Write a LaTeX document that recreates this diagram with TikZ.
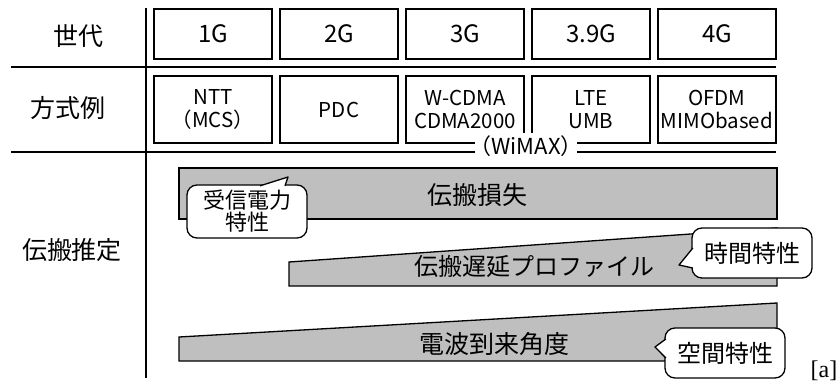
\documentclass[tikz,border=0pt]{standalone}
\usepackage{fontspec}
\setmainfont{Noto Sans CJK JP}
\newfontfamily\tagfont{Liberation Serif}
\begin{document}
\begin{tikzpicture}[x=1pt,y=-1pt,
  genbox/.style={draw,line width=1.1pt,minimum width=118pt,minimum height=50pt,inner sep=0pt,font=\fontsize{24}{28}\selectfont},
  sysbox/.style={draw,line width=1.1pt,minimum width=118pt,minimum height=67pt,inner sep=0pt,align=center,font=\fontsize{20.5}{23}\selectfont},
  head/.style={font=\fontsize{25}{30}\selectfont},
  rule/.style={line width=2pt},
  bar/.style={draw,line width=1.3pt,fill=black!25},
  barlabel/.style={font=\fontsize{25}{30}\selectfont},
  balloon/.style={draw,line width=1.3pt,fill=white,rounded corners=10pt,minimum width=120pt,minimum height=50pt,inner sep=0pt,align=center,font=\fontsize{24}{26}\selectfont},
  tail/.style={draw,line width=1.3pt,fill=white,line join=round}]
\useasboundingbox (0,0) rectangle (836,385);

% table rules
\draw[rule] (146,8) -- (146,378);
\draw[rule] (11,67) -- (776,67);
\draw[rule] (11,152) -- (776,152);

% row headers
\node[head] (gen) at (78,36) {世代};
\node[head] (sys) at (68,108) {方式例};
\node[head] (prop) at (72,250) {伝搬推定};

% generations and systems
\foreach \g [count=\i] in {1G,2G,3G,3.9G,4G}
  \node[genbox] (g\i) at (87+126*\i,34) {\g};
\foreach \s [count=\i] in {{NTT\\（MCS）},PDC,{W-CDMA\\CDMA2000},{LTE\\UMB},{OFDM\\MIMObased}}
  \node[sysbox] (s\i) at (87+126*\i,109.5) {\s};
\node[fill=white,inner xsep=-6pt,inner ysep=0pt,minimum height=27pt,font=\fontsize{22}{24}\selectfont] (wimax) at (526,146.5) {（WiMAX）};

% propagation bars
\draw[bar] (179,168) rectangle (777,219);
\node[barlabel] (loss) at (477,195) {伝搬損失};
\draw[bar] (289,262) -- (777,228) -- (777,286) -- (289,286) -- cycle;
\node[barlabel,font=\fontsize{24}{28}\selectfont] (delay) at (534,266) {伝搬遅延プロファイル};
\draw[bar] (179,337) -- (777,303) -- (777,361) -- (179,361) -- cycle;
\node[barlabel] (aoa) at (494,344) {電波到来角度};

% balloons
\node[balloon,minimum height=53pt,font=\fontsize{22}{22}\selectfont] (power) at (247,211.5) {受信電力\\特性};
\coordinate (powtip) at (288,177);
\draw[tail] ([xshift=13pt,yshift=-1.5pt]power.north) -- (powtip) -- ([xshift=38pt,yshift=-1.5pt]power.north);

\node[balloon] (time) at (752,253) {時間特性};
\coordinate (timetip) at (679,265);
\draw[tail] ([xshift=1.5pt,yshift=5pt]time.west) -- (timetip) -- ([xshift=1.5pt,yshift=-15pt]time.west);

\node[balloon] (space) at (725,353) {空間特性};
\coordinate (spacetip) at (655,347);
\draw[tail] ([xshift=1.5pt,yshift=14pt]space.west) -- (spacetip) -- ([xshift=1.5pt,yshift=-5pt]space.west);

\node[font=\tagfont\fontsize{24}{24}\selectfont] (tag) at (824,371) {[a]};
\end{tikzpicture}
\end{document}
